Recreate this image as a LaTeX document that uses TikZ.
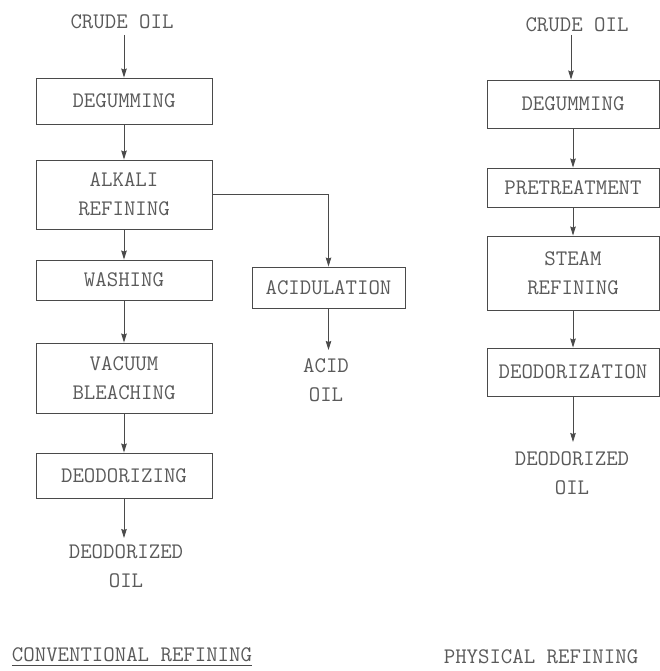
\documentclass[tikz,border=0pt]{standalone}
\usetikzlibrary{arrows.meta}
\definecolor{ink}{HTML}{4A4A4A}
\definecolor{txt}{HTML}{5A5A5A}
\tikzset{
  lbl/.style={text=txt, font=\ttfamily\fontsize{22.2}{29}\selectfont, inner sep=0pt, align=center},
  procbox/.style={draw=ink, line width=0.9pt, rectangle, inner sep=0pt, text=txt,
    font=\ttfamily\fontsize{22.2}{29}\selectfont, align=center},
  flow/.style={draw=ink, line width=0.8pt, -{Stealth[length=9pt,width=5.5pt,inset=1pt]}},
  link/.style={draw=ink, line width=0.8pt}
}
\begin{document}
\begin{tikzpicture}[x=1pt,y=-1pt]
\useasboundingbox (0,0) rectangle (660,671);
% ---------- conventional refining ----------
\node[lbl] (lcrude) at (122,22) {CRUDE OIL};
\node[procbox, minimum width=176pt, minimum height=46pt] (ldeg) at (124,101) {DEGUMMING};
\node[procbox, minimum width=176pt, minimum height=69pt] (lalk) at (124,194.5) {ALKALI\\REFINING};
\node[procbox, minimum width=176pt, minimum height=40pt] (lwash) at (124,280) {WASHING};
\node[procbox, minimum width=176pt, minimum height=70pt] (lvac) at (124,378) {VACUUM\\BLEACHING};
\node[procbox, minimum width=176pt, minimum height=45pt] (ldeo) at (124,475.5) {DEODORIZING};
\node[lbl, anchor=north] (loil) at (126,544) {DEODORIZED\\OIL};
\node[procbox, minimum width=153pt, minimum height=41pt] (acid) at (328.5,287.5) {ACIDULATION};
\node[lbl, anchor=north] (acidoil) at (326,358) {ACID\\OIL};
\coordinate (lcrudeend) at (124,35);
\coordinate (loilend) at (124,538);
\coordinate (acidend) at (327,350);
\draw[flow] (lcrudeend) -- (ldeg.north);
\draw[flow] (ldeg.south) -- (lalk.north);
\draw[flow] (lalk.south) -- (lwash.north);
\draw[flow] (lwash.south) -- (lvac.north);
\draw[flow] (lvac.south) -- (ldeo.north);
\draw[flow] (ldeo.south) -- (ldeo.south |- loilend);
\draw[flow] (lalk.east) -| (acid.north);
\draw[flow] (acid.south) -- (acid.south |- acidend);
\node[lbl] (ltitle) at (132,655) {CONVENTIONAL REFINING};
\draw[link] ([yshift=-3pt]ltitle.south west) -- ([yshift=-3pt]ltitle.south east);
% ---------- physical refining ----------
\node[lbl] (rcrude) at (577,25) {CRUDE OIL};
\node[procbox, minimum width=172pt, minimum height=48pt] (rdeg) at (573,104) {DEGUMMING};
\node[procbox, minimum width=172pt, minimum height=39pt] (rpre) at (573,187.5) {PRETREATMENT};
\node[procbox, minimum width=172pt, minimum height=74pt] (rsteam) at (573,273) {STEAM\\REFINING};
\node[procbox, minimum width=172pt, minimum height=48pt] (rdeo) at (573,372) {DEODORIZATION};
\node[lbl, anchor=north] (roil) at (572,451) {DEODORIZED\\OIL};
\coordinate (rcrudeend) at (571,35);
\coordinate (roilend) at (573,442);
\draw[flow] (rcrudeend) -- (rcrudeend |- rdeg.north);
\draw[flow] (rdeg.south) -- (rpre.north);
\draw[flow] (rpre.south) -- (rsteam.north);
\draw[flow] (rsteam.south) -- (rdeo.north);
\draw[flow] (rdeo.south) -- (rdeo.south |- roilend);
\node[lbl] (rtitle) at (541,657) {PHYSICAL REFINING};
\end{tikzpicture}
\end{document}
